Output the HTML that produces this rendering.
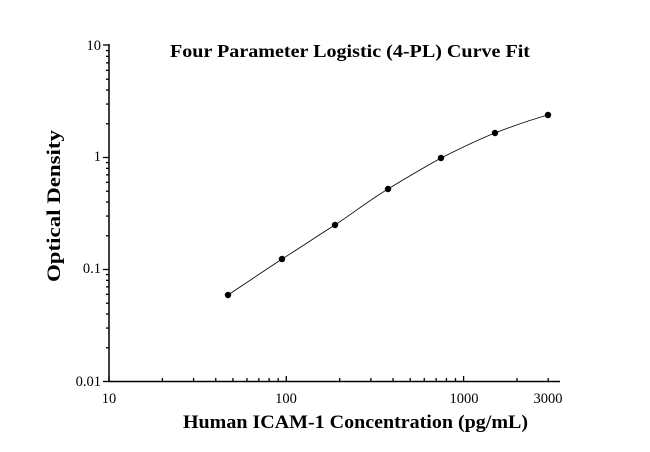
<!DOCTYPE html>
<html><head><meta charset="utf-8"><style>
html,body{margin:0;padding:0;background:#fff;}
svg{display:block;font-family:"Liberation Serif",serif;}
</style></head><body>
<svg width="650" height="452" viewBox="0 0 650 452" xmlns="http://www.w3.org/2000/svg">
<rect width="650" height="452" fill="#fff"/>
<g stroke="#000" stroke-width="1.5" fill="none">
<line x1="109" y1="44" x2="109" y2="382"/>
<line x1="108" y1="381.5" x2="560" y2="381.5"/>
</g>
<g stroke="#000" stroke-width="1.3" id="yt"></g>
<g stroke="#000" stroke-width="1.3" id="xt"></g>
<g font-size="14.5" fill="#000" text-anchor="end">
<text x="101" y="50">10</text>
<text x="101" y="161">1</text>
<text x="101" y="273">0.1</text>
<text x="101" y="386">0.01</text>
</g>
<g font-size="14.5" fill="#000" text-anchor="middle">
<text x="109" y="403">10</text>
<text x="286" y="403">100</text>
<text x="464" y="403">1000</text>
<text x="548" y="403">3000</text>
</g>
<text x="170" y="57" font-size="18" font-weight="bold" textLength="360" lengthAdjust="spacingAndGlyphs">Four Parameter Logistic (4-PL) Curve Fit</text>
<text x="183" y="428" font-size="19" font-weight="bold" textLength="345" lengthAdjust="spacingAndGlyphs">Human ICAM-1 Concentration (pg/mL)</text>
<text transform="translate(60,282) rotate(-90)" font-size="19" font-weight="bold" textLength="152" lengthAdjust="spacingAndGlyphs">Optical Density</text>
<path d="M228,295 C246,283 264,271 282,259 C300,248 317,236 335,225 C353,213 370,200 388,189 C406,178 423,168 441,158 C459,149 477,140 495,133 C513,126 530,120 548,115" stroke="#000" stroke-width="0.8" fill="none"/>
<g fill="#000">
<circle cx="228" cy="295" r="3.2"/><circle cx="282" cy="259" r="3.2"/><circle cx="335" cy="225" r="3.2"/>
<circle cx="388" cy="189" r="3.2"/><circle cx="441" cy="158" r="3.2"/><circle cx="495" cy="133" r="3.2"/>
<circle cx="548" cy="115" r="3.2"/>
</g>
<script>
(function(){
var ns="http://www.w3.org/2000/svg";
var yt=document.getElementById("yt"),xt=document.getElementById("xt");
function ln(g,a,b,c,d){var l=document.createElementNS(ns,"line");l.setAttribute("x1",a);l.setAttribute("y1",b);l.setAttribute("x2",c);l.setAttribute("y2",d);g.appendChild(l);}
for(var dec=0;dec<3;dec++){for(var k=1;k<=9;k++){var y=381.5-112*(dec+Math.log10(k));ln(yt,k==1?103:106,y,109,y);}}
ln(yt,103,45,109,45);
for(var dec=0;dec<3;dec++){for(var k=1;k<=9;k++){var v=dec+Math.log10(k);if(v>2.48)break;var x=109+177.3*v;ln(xt,x,381.5,x,k==1?376:378);}}
})();
</script>
</svg>
</body></html>
